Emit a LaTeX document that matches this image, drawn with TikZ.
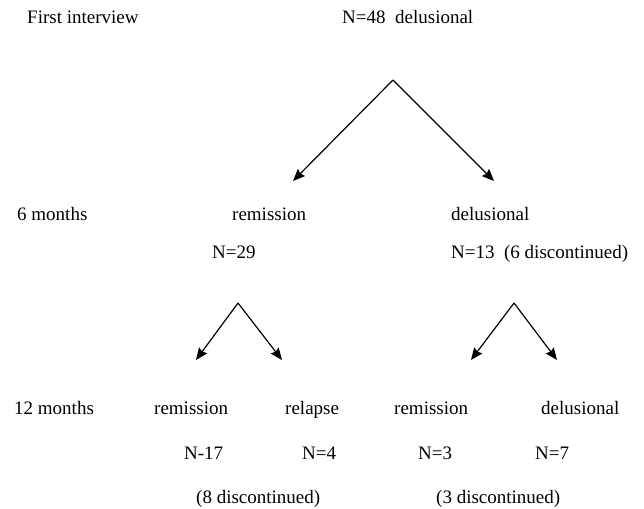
\documentclass[tikz,border=0pt]{standalone}
\usepackage{fontspec}
\setmainfont{Liberation Serif}
\usetikzlibrary{arrows.meta}
\begin{document}
\begin{tikzpicture}[x=1pt,y=-1pt,
  lbl/.style={anchor=base west,inner sep=0pt,font=\fontsize{19}{22}\selectfont},
  arr/.style={line width=1.2pt,-{Stealth[length=12pt,width=10pt,inset=1.5pt]}}]
\useasboundingbox (0,0) rectangle (644,508);
% labels
\node[lbl] (fi) at (27,24) {First interview};
\node[lbl] (n48) at (342,24) {N=48\ \ delusional};
\node[lbl] (m6) at (17,220) {6 months};
\node[lbl] (rem6) at (232,220) {remission};
\node[lbl] (del6) at (451,220) {delusional};
\node[lbl] (n29) at (212,258) {N=29};
\node[lbl] (n13) at (451,258) {N=13\ \ (6 discontinued)};
\node[lbl] (m12) at (14,414) {12 months};
\node[lbl] (remA) at (154,414) {remission};
\node[lbl] (rel) at (285,414) {relapse};
\node[lbl] (remB) at (394,414) {remission};
\node[lbl] (delB) at (541,414) {delusional};
\node[lbl] (n17) at (184,459) {N-17};
\node[lbl] (n4) at (302,459) {N=4};
\node[lbl] (n3) at (418,459) {N=3};
\node[lbl] (n7) at (535,459) {N=7};
\node[lbl] (d8) at (196,503) {(8 discontinued)};
\node[lbl] (d3) at (436,503) {(3 discontinued)};
% arrow points
\coordinate (a0) at (393,80);
\coordinate (t0l) at (293,181);
\coordinate (t0r) at (494,181);
\coordinate (a1) at (238,303);
\coordinate (t1l) at (196,360);
\coordinate (t1r) at (282,360);
\coordinate (a2) at (514,303);
\coordinate (t2l) at (471,360);
\coordinate (t2r) at (557,360);
\draw[arr] (a0) -- (t0l);
\draw[arr] (a0) -- (t0r);
\draw[arr] (a1) -- (t1l);
\draw[arr] (a1) -- (t1r);
\draw[arr] (a2) -- (t2l);
\draw[arr] (a2) -- (t2r);
\end{tikzpicture}
\end{document}
